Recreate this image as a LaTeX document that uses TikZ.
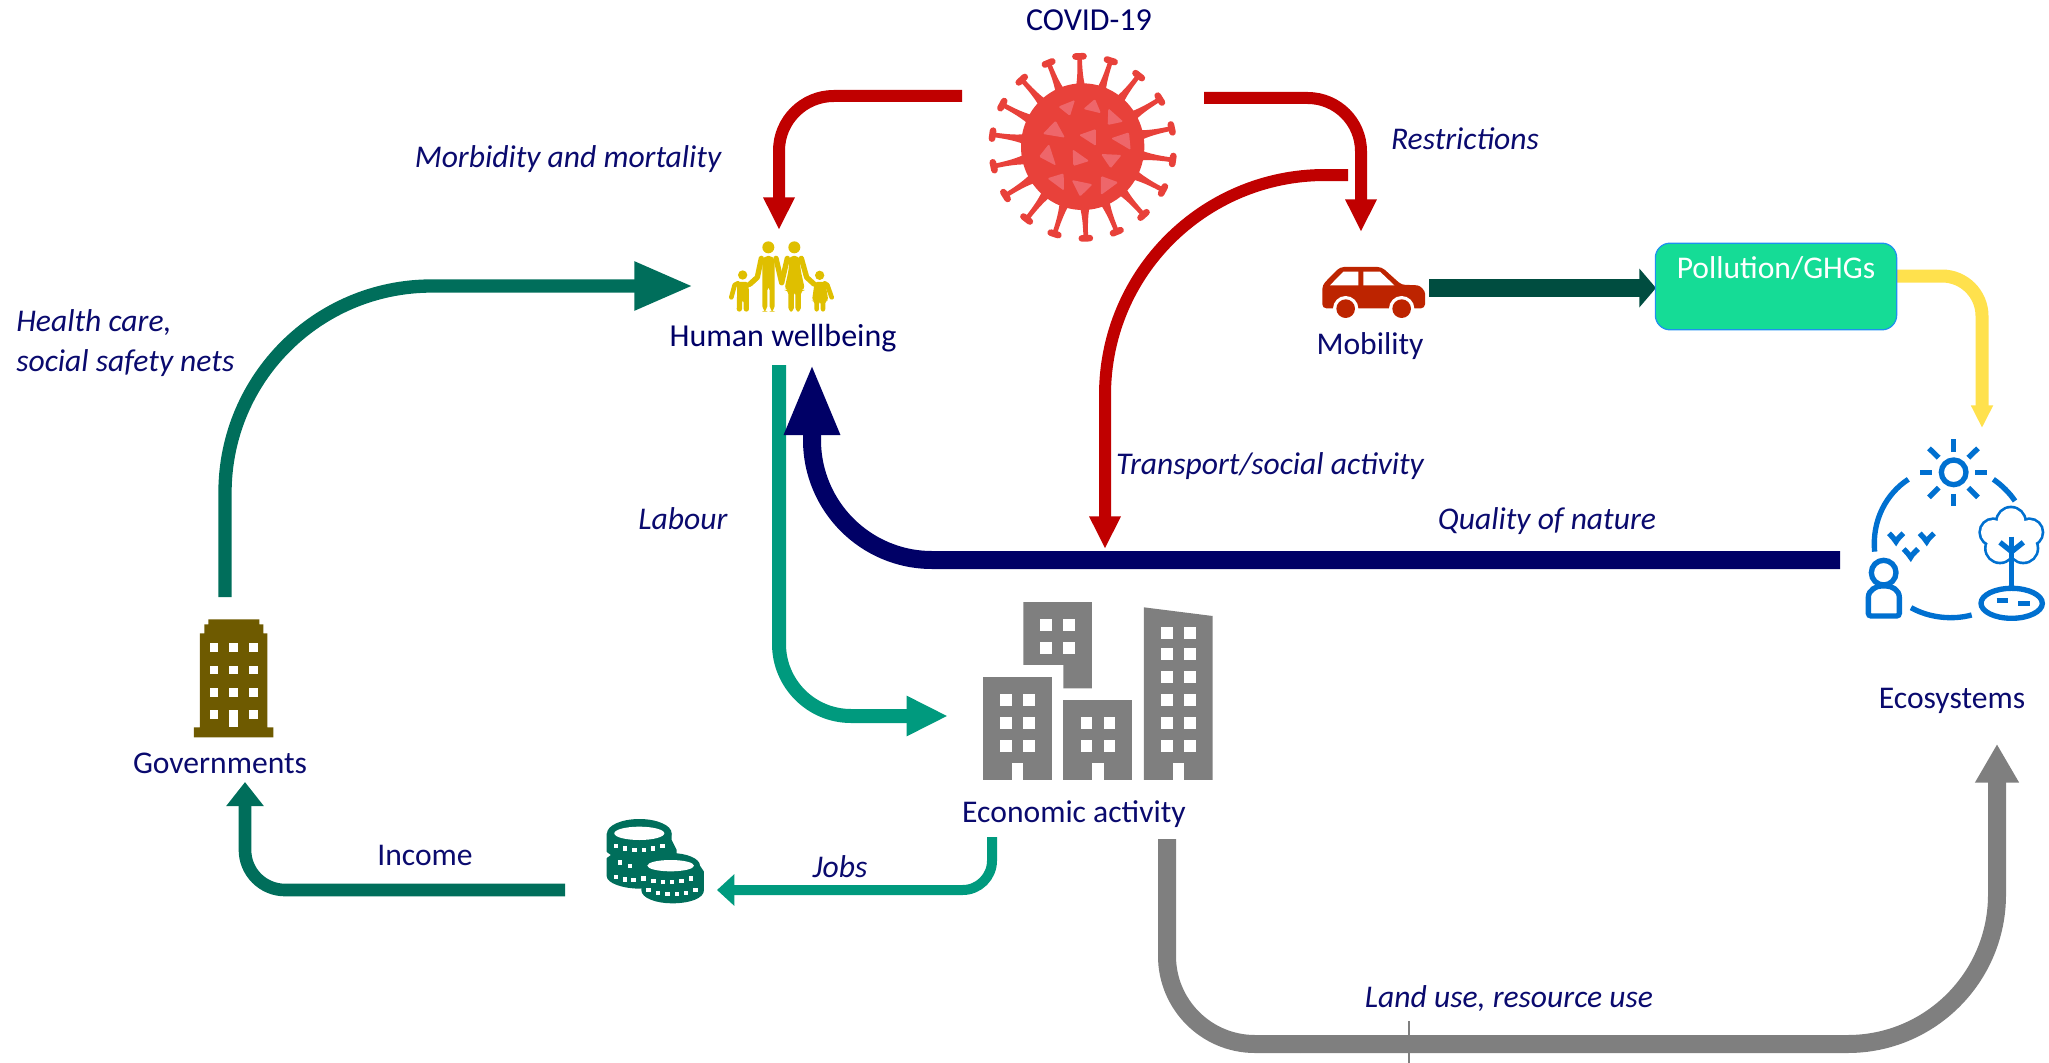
\documentclass[tikz,border=0pt]{standalone}
\usepackage{fontspec}
\setmainfont{Carlito}
\usetikzlibrary{arrows.meta}
\definecolor{navytext}{HTML}{0A0A6E}
\definecolor{darknavy}{HTML}{000066}
\definecolor{arrowred}{HTML}{C00000}
\definecolor{virusred}{HTML}{E8413A}
\definecolor{viruspale}{HTML}{EE666A}
\definecolor{darkteal}{HTML}{006E5B}
\definecolor{mintteal}{HTML}{009A7E}
\definecolor{deepgreen}{HTML}{004D40}
\definecolor{boxgreen}{HTML}{15DC96}
\definecolor{boxedge}{HTML}{1E90F0}
\definecolor{sunyellow}{HTML}{FFE14D}
\definecolor{famyellow}{HTML}{DFBF00}
\definecolor{carred}{HTML}{BD2400}
\definecolor{govbrown}{HTML}{6E5A00}
\definecolor{ecoblue}{HTML}{0070D0}
\definecolor{towergray}{HTML}{7F7F7F}

\begin{document}
\begin{tikzpicture}[x=0.75pt, y=-0.75pt,
		plain/.style={font=\fontsize{23.7}{29}\selectfont, text=navytext, inner sep=0pt},
		note/.style={plain, font=\fontsize{23.7}{29}\selectfont\itshape},
		heading/.style={plain, text=darknavy, font=\fontsize{24}{29}\selectfont},
		redline/.style={draw=arrowred, line width=9pt, -{Triangle[length=24.5pt,width=22pt]}},
		pane/.style={fill=white, draw=none},
		ecoline/.style={draw=ecoblue, line width=4pt, fill=none}]
	\useasboundingbox (0,0) rectangle (2049,1063);

	% Named ends of the arrows
	\coordinate (virusLeft) at (962,96);
	\coordinate (familyTop) at (779,230);
	\coordinate (virusRight) at (1204,98);
	\coordinate (carTop) at (1361,232);
	\coordinate (restrictStart) at (1348,175);
	\coordinate (trafficTip) at (1105,549);
	\coordinate (govTop) at (225,597);
	\coordinate (familyLeft) at (693,286);
	\coordinate (familyBottom) at (779,365);
	\coordinate (townLeft) at (948,716);
	\coordinate (ecoLeft) at (1840,560);
	\coordinate (familyBelow) at (812,363);
	\coordinate (carRight) at (1429,288);
	\coordinate (boxLeft) at (1656,288);
	\coordinate (boxRight) at (1897,276);
	\coordinate (ecoTop) at (1982,428);
	\coordinate (townBottom) at (1167,839);
	\coordinate (ecoBelow) at (1997,744);
	\coordinate (landCorner) at (1167,1044);
	\coordinate (landMiddle) at (1300,1044);
	\coordinate (townJobs) at (992,837);
	\coordinate (coinRight) at (717,890);
	\coordinate (coinLeft) at (565,890);
	\coordinate (govBelow) at (245,782);
	\coordinate (tickTop) at (1409,1021);
	\coordinate (tickEnd) at (1409,1063);

	% Draw the arrows
	\draw[redline, rounded corners=41pt] (virusLeft) -| (familyTop);
	\draw[redline, rounded corners=40pt] (virusRight) -| (carTop);
	\draw[redline, rounded corners=165pt] (restrictStart) -| (trafficTip);
	\draw[draw=darkteal, line width=10pt, rounded corners=155pt, -{Triangle[length=44pt,width=34pt]}] (govTop) |- (familyLeft);
	\draw[draw=mintteal, line width=10.5pt, rounded corners=54pt, -{Triangle[length=31pt,width=28pt]}] (familyBottom) |- (townLeft);
	\draw[draw=darknavy, line width=13.5pt, rounded corners=90pt, -{Triangle[length=54pt,width=38pt]}] (ecoLeft) -| (familyBelow);
	\draw[draw=deepgreen, line width=14pt, -{Triangle[length=12.5pt,width=28.5pt]}] (carRight) -- (boxLeft);
	\draw[draw=sunyellow, line width=9.75pt, rounded corners=30pt, -{Triangle[length=17pt,width=15.5pt]}] (boxRight) -| (ecoTop);
	\draw[draw=towergray, line width=13.5pt, rounded corners=66pt] (townBottom) -- (landCorner) -- (landMiddle);
	\draw[draw=towergray, line width=13.5pt, rounded corners=112pt, -{Triangle[length=29pt,width=31pt]}] (landMiddle) -| (ecoBelow);
	\draw[draw=mintteal, line width=7.5pt, rounded corners=22pt, -{Triangle[length=13pt,width=23pt]}] (townJobs) |- (coinRight);
	\draw[draw=darkteal, line width=9.5pt, rounded corners=30pt, -{Triangle[length=18pt,width=27pt]}] (coinLeft) -| (govBelow);
	\draw[draw=towergray, line width=1.2pt] (tickTop) -- (tickEnd);

	% Pollution box
	\node[draw=boxedge, fill=boxgreen, line width=0.9pt, rounded corners=11pt, minimum width=181pt, minimum height=65pt, inner sep=0pt] (pollutionBox) at (1776,286.5) {};

	% Virus
	\begin{scope}[shift={(960,30)}, scale=0.3333]
		\foreach \ang in {0,20,...,340} {
			\fill[virusred, rotate around={\ang+2:(368,352)}] (345,200) .. controls (358,170) and (361,130) .. (361,85) -- (375,85) .. controls (375,130) and (378,170) .. (391,200) -- cycle;
			\draw[virusred, line width=5pt, line cap=round, rotate around={\ang+2:(368,352)}] (356,79) -- (380,79);
		}
		\fill[virusred] (368,350) ellipse (185 and 190);
		\fill[viruspale, rounded corners=1pt] (295,230) -- (345,210) -- (330,258) -- cycle;
		\fill[viruspale, rounded corners=1pt] (370,237) -- (405,207) -- (423,250) -- cycle;
		\fill[viruspale, rounded corners=1pt] (445,235) -- (490,275) -- (443,285) -- cycle;
		\fill[viruspale, rounded corners=1pt] (248,312) -- (287,272) -- (315,323) -- cycle;
		\fill[viruspale, rounded corners=1pt] (357,315) -- (408,297) -- (408,348) -- cycle;
		\fill[viruspale, rounded corners=1pt] (453,325) -- (507,307) -- (512,360) -- cycle;
		\fill[viruspale, rounded corners=1pt] (237,380) -- (267,342) -- (288,407) -- cycle;
		\fill[viruspale, rounded corners=1pt] (338,358) -- (388,393) -- (340,408) -- cycle;
		\fill[viruspale, rounded corners=1pt] (423,372) -- (485,375) -- (452,415) -- cycle;
		\fill[viruspale, rounded corners=1pt] (262,445) -- (311,430) -- (312,482) -- cycle;
		\fill[viruspale, rounded corners=1pt] (335,450) -- (398,463) -- (360,500) -- cycle;
		\fill[viruspale, rounded corners=1pt] (423,438) -- (475,457) -- (423,495) -- cycle;
	\end{scope}

	% Family
	\begin{scope}[shift={(700,220)}, scale=0.3333, famyellow]
		\fill (205,82) circle (18);
		\fill (283,82) circle (18);
		\fill (128,165) circle (14);
		\fill (359,166) circle (14);
		% man
		\fill[rounded corners=4pt] (187,275) -- (187,108) -- (224,108) -- (224,275) -- (209,275) -- (209,195) -- (202,195) -- (202,275) -- cycle;
		\draw[line width=4pt, line cap=round, line join=round] (184,115) -- (172,172) -- (150,192);
		\draw[line width=4pt, line cap=round, line join=round] (228,115) -- (245,188);
		% woman
		\fill[rounded corners=3pt] (268,108) -- (298,108) -- (302,150) -- (315,210) -- (303,210) -- (303,275) -- (286,275) -- (286,212) -- (282,212) -- (282,275) -- (265,275) -- (265,210) -- (253,210) -- (266,150) -- cycle;
		\draw[line width=4pt, line cap=round, line join=round] (262,115) -- (245,188);
		\draw[line width=4pt, line cap=round, line join=round] (304,115) -- (320,172) -- (342,192);
		% children
		\fill[rounded corners=2pt] (112,186) -- (146,186) -- (147,275) -- (131,275) -- (131,240) -- (126,240) -- (126,275) -- (110,275) -- cycle;
		\draw[line width=3.5pt, line cap=round, line join=round] (114,190) -- (104,195) -- (94,232);
		\draw[line width=3.5pt, line cap=round, line join=round] (146,195) -- (166,178);
		\fill[rounded corners=2pt] (344,186) -- (376,186) -- (385,242) -- (376,242) -- (376,275) -- (362,275) -- (362,244) -- (357,244) -- (357,275) -- (343,275) -- (343,242) -- (336,242) -- cycle;
		\draw[line width=3.5pt, line cap=round, line join=round] (374,190) -- (382,195) -- (395,232);
	\end{scope}

	% Car
	\begin{scope}[shift={(1300,220)}, scale=0.3333]
		\fill[carred, rounded corners=3pt] (67,265) -- (67,195) -- (120,141) -- (245,141) -- (305,195) -- (340,195) .. controls (362,197) and (375,212) .. (375,232) -- (375,265) -- cycle;
		\fill[white] (90,196) -- (130,155) -- (175,155) -- (175,196) -- cycle;
		\fill[white] (190,155) -- (240,155) -- (283,196) -- (190,196) -- cycle;
		\fill[white] (137,266) circle (38);
		\fill[white] (305,266) circle (38);
		\fill[white] (60,266) rectangle (385,285);
		\fill[carred] (137,266) circle (28);
		\fill[carred] (305,266) circle (28);
	\end{scope}

	% Economic activity buildings
	\begin{scope}[shift={(960,590)}, scale=0.3333, towergray]
		\fill (190,36) -- (396,36) -- (396,295) -- (310,295) -- (310,225) -- (190,225) -- cycle;
		\fill (69,260) rectangle (275,570);
		\fill (310,329) rectangle (517,570);
		\fill (552,52) -- (758,78) -- (758,570) -- (552,570) -- cycle;
		\fill[white] (155,520) rectangle (189,571);
		\fill[white] (397,520) rectangle (431,571);
		\fill[white] (638,520) rectangle (672,571);
		\foreach \wx/\wy in {241/87,310/87,241/156,310/156,120/312,189/312,120/381,189/381,120/450,189/450,362/381,431/381,362/450,431/450,603/112,672/112,603/174,672/174,603/243,672/243,603/312,672/312,603/381,672/381,603/450,672/450}
			\fill[white] (\wx,\wy) rectangle ++(35,35);
	\end{scope}

	% Government building
	\begin{scope}[shift={(170,600)}, scale=0.3333]
		\fill[govbrown] (115,58) -- (268,58) -- (268,73) -- (280,73) -- (280,100) -- (292,100) -- (292,382) -- (310,382) -- (310,412) -- (72,412) -- (72,382) -- (90,382) -- (90,100) -- (103,100) -- (103,73) -- (115,73) -- cycle;
		\foreach \wx in {119,178,237}
			\foreach \wy in {129,197,264}
				\fill[white] (\wx,\wy) rectangle ++(26,26);
		\fill[white] (119,331) rectangle ++(26,26);
		\fill[white] (237,331) rectangle ++(26,26);
		\fill[white] (178,331) rectangle ++(26,51);
	\end{scope}

	% Coins
	\begin{scope}[shift={(580,800)}, scale=0.3333, darkteal]
		\fill (80,100) -- (80,228) .. controls (80,250) and (130,266) .. (180,266) -- (290,240) -- (290,150) -- (275,120) -- (275,100) -- cycle;
		\fill (178,100) ellipse (97 and 43);
		\fill[white] (178,100) ellipse (75 and 20);
		\fill[white] (74,152) -- (92,165) -- (74,178) -- cycle;
		\fill (184,197) -- (184,270) .. controls (184,295) and (230,310) .. (276,310) .. controls (330,310) and (372,295) .. (372,270) -- (372,215) -- (360,197) -- cycle;
		\fill (272,197) ellipse (88 and 38);
		\fill[white] (272,197) ellipse (70 and 17);
		\foreach \cx/\cy in {108/137,135/145,163/149,191/149,219/145,247/137,120/187,150/198,108/230,135/238,160/240,190/235,220/243,248/246,276/246,304/243,332/235,205/270,233/278,262/282,290/282,318/278,346/270}
			\fill[white] (\cx-6,\cy-6) rectangle ++(13,13);
	\end{scope}

	% Ecosystem
	\begin{scope}[shift={(1840,420)}, scale=0.3333]
		\draw[ecoline] (341,157) circle (37);
		\draw[ecoline] (341,58) -- (341,95);
		\draw[ecoline] (341,222) -- (341,258);
		\draw[ecoline] (241,157) -- (277,157);
		\draw[ecoline] (405,157) -- (441,157);
		\draw[ecoline] (267,85) -- (296,113);
		\draw[ecoline] (414,85) -- (385,113);
		\draw[ecoline] (267,232) -- (296,203);
		\draw[ecoline] (414,232) -- (385,203);
		\draw[ecoline] (205,178) .. controls (140,220) and (95,300) .. (104,395);
		\draw[ecoline] (460,178) .. controls (485,195) and (510,220) .. (525,243);
		\draw[ecoline] (213,563) .. controls (270,595) and (340,600) .. (395,585);
		\foreach \bx/\by in {168/365,260/365,212/412} {
			\draw[ecoline] (\bx-21,\by-25) .. controls (\bx-12,\by-15) and (\bx-4,\by-8) .. (\bx,\by) .. controls (\bx+4,\by-8) and (\bx+12,\by-15) .. (\bx+22,\by-25);
		}
		\draw[ecoline] (131,458) circle (37);
		\draw[ecoline, rounded corners=2pt] (85,588) -- (85,540) .. controls (85,510) and (110,498) .. (131,498) .. controls (155,498) and (178,510) .. (178,540) -- (178,588) -- cycle;
		\draw[ecoline] (513,305) circle (40) (460,337) circle (37) (568,337) circle (37) (480,385) circle (40) (550,385) circle (40);
		\fill[pane] (513,305) circle (40) (460,337) circle (37) (568,337) circle (37) (480,385) circle (40) (550,385) circle (40) (515,350) circle (40);
		\draw[ecoline] (515,350) -- (515,500);
		\draw[ecoline, line join=miter] (480,367) -- (515,395) -- (550,367);
		\draw[ecoline] (515,550) ellipse (92 and 45);
		\draw[ecoline] (470,541) -- (505,541);
		\draw[ecoline] (535,550) -- (570,550);
	\end{scope}

	% Labels
	\node[heading] (covidLabel) at (1089,20) {COVID-19};
	\node[note] (morbidityLabel) at (568,159) {Morbidity and mortality};
	\node[note] (restrictLabel) at (1465,139) {Restrictions};
	\node[heading] (wellbeingLabel) at (783,338) {Human wellbeing};
	\node[plain] (mobilityLabel) at (1370,346) {Mobility};
	\node[plain, text=white] (pollutionLabel) at (1776,268) {Pollution/GHGs};
	\node[note, anchor=west, align=left] (healthLabel) at (16,343) {Health care,\\[1pt]social safety nets};
	\node[note] (transportLabel) at (1270,466) {Transport/social activity};
	\node[note] (labourLabel) at (683,519) {Labour};
	\node[note] (natureLabel) at (1547,521) {Quality of nature};
	\node[plain] (ecoLabel) at (1952,701) {Ecosystems};
	\node[plain] (economicLabel) at (1074,814) {Economic activity};
	\node[plain] (govLabel) at (220,763) {Governments};
	\node[plain] (incomeLabel) at (425,855) {Income};
	\node[note] (jobsLabel) at (840,867) {Jobs};
	\node[note] (landLabel) at (1509,999) {Land use, resource use};

\end{tikzpicture}
\end{document}
